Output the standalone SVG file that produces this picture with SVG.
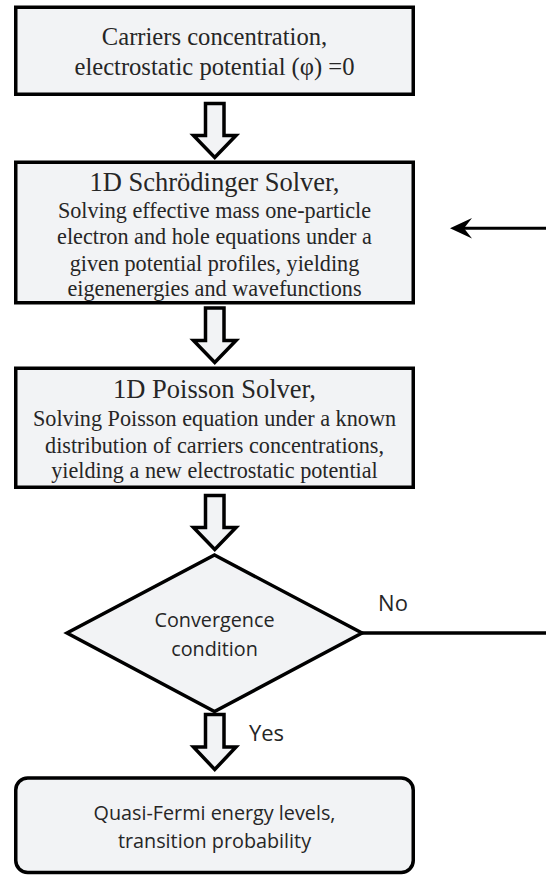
<svg xmlns="http://www.w3.org/2000/svg" width="546" height="875" viewBox="0 0 546 875">
  <style>
    .box { fill: #f2f3f5; stroke: #000; stroke-width: 3.5; }
    .blk { fill: #f2f3f5; stroke: #000; stroke-width: 3.5; stroke-linejoin: miter; stroke-miterlimit: 10; }
    .line { fill: none; stroke: #000; stroke-width: 3.5; }
    .serif { font-family: "Liberation Serif", "Times New Roman", serif; fill: #262626; text-anchor: middle; }
    .sans { font-family: "Open Sans", "Liberation Sans", Arial, sans-serif; fill: #262626; text-anchor: middle; }
    .t1 { font-size: 24.6px; }
    .title { font-size: 26.5px; }
    .sub { font-size: 22.2px; }
    .s20 { font-size: 19.8px; }
    .lbl { font-size: 22px; }
  </style>
  <rect width="546" height="875" fill="#ffffff"/>

  <!-- step connectors: block arrows, the No loop line and its return arrow -->
  <g id="connectors">
    <polygon class="blk" points="205.5,103.5 224,103.5 224,135.5 236,135.5 214.75,157.5 193.5,135.5 205.5,135.5"/>
    <polygon class="blk" points="205.5,308 224,308 224,340.5 236,340.5 214.75,362.5 193.5,340.5 205.5,340.5"/>
    <polygon class="blk" points="205.5,495.5 224,495.5 224,527.5 236,527.5 214.75,549.5 193.5,527.5 205.5,527.5"/>
    <polygon class="blk" points="205.5,714.5 224,714.5 224,747 236,747 214.75,769.5 193.5,747 205.5,747"/>
    <line class="line" x1="362" y1="633" x2="546" y2="633"/>
    <line x1="464" y1="228.3" x2="546" y2="228.3" stroke="#000" stroke-width="3"/>
    <polygon points="450,228.3 472,218 464,228.3 472,238.6" fill="#000"/>
    <text class="sans lbl" x="393" y="610.5">No</text>
    <text class="sans lbl" x="266.5" y="740.5">Yes</text>
  </g>

  <g id="init">
    <rect class="box" x="15.75" y="7.25" width="397.5" height="87"/>
    <text class="serif t1" x="214.5" y="44.5">Carriers concentration,</text>
    <text class="serif t1" x="214.5" y="74.5">electrostatic potential (φ) =0</text>
  </g>

  <g id="schrodinger">
    <rect class="box" x="15.75" y="162.25" width="397.5" height="140.5"/>
    <text class="serif title" x="214.5" y="190.5">1D Schrödinger Solver,</text>
    <text class="serif sub" x="214.5" y="218">Solving effective mass one-particle</text>
    <text class="serif sub" x="214.5" y="244.3">electron and hole equations under a</text>
    <text class="serif sub" x="214.5" y="270.5">given potential profiles, yielding</text>
    <text class="serif sub" x="214.5" y="296">eigenenergies and wavefunctions</text>
  </g>

  <g id="poisson">
    <rect class="box" x="15.75" y="368.25" width="397.5" height="119"/>
    <text class="serif title" x="214.5" y="398">1D Poisson Solver,</text>
    <text class="serif sub" x="214.5" y="426">Solving Poisson equation under a known</text>
    <text class="serif sub" x="214.5" y="452.5">distribution of carriers concentrations,</text>
    <text class="serif sub" x="214.5" y="477.5">yielding a new electrostatic potential</text>
  </g>

  <g id="convergence">
    <polygon class="box" points="214.5,555 362,633 214.5,711.5 67,633"/>
    <text class="sans s20" x="214.5" y="626.5">Convergence</text>
    <text class="sans s20" x="214.5" y="655.5">condition</text>
  </g>

  <g id="result">
    <rect class="box" x="15.75" y="778" width="397.5" height="94.5" rx="12" ry="12"/>
    <text class="sans s20" x="214.5" y="819.5">Quasi-Fermi energy levels,</text>
    <text class="sans s20" x="214.5" y="848">transition probability</text>
  </g>
</svg>
